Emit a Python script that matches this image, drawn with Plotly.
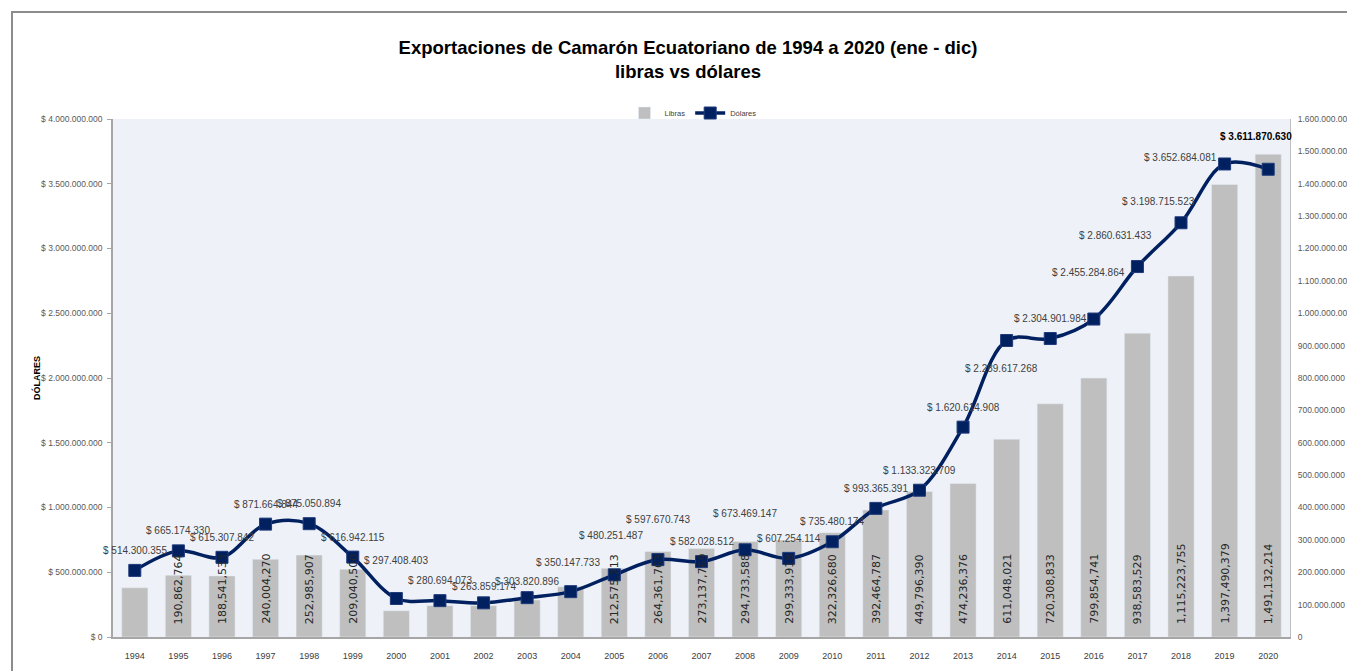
import plotly.graph_objects as go

# Datos
years = list(range(1994, 2021))

dolares = [514300355, 665174330, 615307842, 871664844, 875050894, 616942115,
           297408403, 280694073, 263859174, 303820896, 350147733, 480251487,
           597670743, 582028512, 673469147, 607254114, 735480174, 993365391,
           1133323709, 1620614908, 2289617268, 2304901984, 2455284864,
           2860631433, 3198715523, 3652684081, 3611870630]

libras = [152000000, 190862764, 188541533, 240004270, 252985907, 209040500,
          81000000, 97000000, 97000000, 114000000, 155000000, 212575213,
          264361763, 273137769, 294733588, 299333918, 322326680, 392464787,
          449796390, 474236376, 611048021, 720308833, 799854741, 938583529,
          1115223755, 1397490379, 1491132214]

# barras sin etiqueta en el original
libras_sin_etiqueta = [1994, 2000, 2001, 2002, 2003, 2004]

left_ticks = [i * 500000000 for i in range(9)]
right_ticks = [i * 100000000 for i in range(17)]

FONT = "Liberation Sans, Arial, sans-serif"
NAVY = "#002060"

# area de trazado (en px de la pagina; el body del html suma ~8px)
L, T, PW, PH = 105, 111, 1177, 518


def fmt_dot(v):
    return f"{v:,.0f}".replace(",", ".")


def px_x(x):
    # px de la imagen de referencia -> coordenada paper
    return (x - 113) / PW


def px_y(y):
    return (637 - y) / PH


fig = go.Figure()

fig.add_trace(go.Bar(
    x=years, y=libras, name="Libras",
    marker=dict(color="#BFBFBF"), width=0.6,
    yaxis="y",
))

fig.add_trace(go.Scatter(
    x=years, y=dolares, name="Dólares",
    mode="lines+markers",
    line=dict(color=NAVY, width=3.5, shape="spline", smoothing=1.0),
    marker=dict(symbol="square", size=12, color=NAVY, line=dict(color="#1F3A7A", width=1)),
    yaxis="y2",
))

annotations = []

# etiquetas verticales de las barras (libras)
for yr, v in zip(years, libras):
    if yr in libras_sin_etiqueta:
        continue
    annotations.append(dict(
        x=yr, y=0, xref="x", yref="y", text=f"{v:,.0f}",
        textangle=-90, showarrow=False, yanchor="bottom", xanchor="center",
        yshift=11, font=dict(family="DejaVu Sans, sans-serif", size=11, color="#262626"),
    ))

# desplazamientos de las etiquetas de la linea (px)
label_shift = {2000: (0, 38), 2002: (0, 16), 2003: (0, 16), 2004: (-3, 29),
               2005: (-3, 39), 2006: (0, 40), 2008: (0, 36), 2014: (-5, -28),
               2016: (-5, 47), 2017: (-22, 31), 2018: (-23, 21), 2019: (-44, 6),
               2020: (-12, 33)}

for yr, v in zip(years, dolares):
    dx, dy = label_shift.get(yr, (0, 20))
    last = yr == 2020
    annotations.append(dict(
        x=yr, y=v, xref="x", yref="y2",
        text=("<b>$ " + fmt_dot(v) + "</b>") if last else "$ " + fmt_dot(v),
        showarrow=False, xshift=dx, yshift=dy,
        font=dict(family=FONT, size=10, color="#000000" if last else "#404040"),
    ))

# titulos de ejes
annotations.append(dict(
    x=px_x(36), y=0.5, xref="paper", yref="paper", text="<b>DÓLARES</b>",
    textangle=-90, showarrow=False, xanchor="center",
    font=dict(family=FONT, size=9, color="#000000"),
))
annotations.append(dict(
    x=px_x(1358), y=0.5, xref="paper", yref="paper", text="<b>LIBRAS</b>",
    textangle=-90, showarrow=False, xanchor="center",
    font=dict(family=FONT, size=9, color="#000000"),
))

fig.update_layout(
    width=1355, height=671,
    margin=dict(l=L, r=1355 - L - PW, t=T, b=671 - T - PH, autoexpand=False),
    paper_bgcolor="white",
    plot_bgcolor="#EEF2F8",
    title=dict(
        text="<b>Exportaciones de Camarón Ecuatoriano de 1994 a 2020 (ene - dic)<br>libras vs dólares</b>",
        x=px_x(688), xref="paper", xanchor="center",
        y=1 - 46 / 671, yref="container", yanchor="middle",
        font=dict(family=FONT, size=18.5, color="#000000"),
    ),
    showlegend=True,
    legend=dict(
        orientation="h", x=px_x(693), xanchor="center", y=px_y(113), yanchor="middle",
        font=dict(family=FONT, size=7.5, color="#404040"),
        bgcolor="rgba(0,0,0,0)", itemwidth=30,
    ),
    xaxis=dict(
        range=[1993.5, 2020.5], tickmode="array", tickvals=years,
        showgrid=False, zeroline=False, automargin=False,
        showline=True, linecolor="#A6A6A6", linewidth=1.5,
        ticks="", ticklabelstandoff=9,
        tickfont=dict(family=FONT, size=9, color="#404040"),
    ),
    yaxis=dict(
        side="right", range=[0, 1600000000],
        tickmode="array", tickvals=right_ticks,
        ticktext=[fmt_dot(v) for v in right_ticks],
        showgrid=False, zeroline=False, automargin=False,
        showline=True, linecolor="#BFBFBF", linewidth=1,
        ticks="", ticklabelstandoff=5,
        tickfont=dict(family=FONT, size=8.5, color="#595959"),
    ),
    yaxis2=dict(
        side="left", overlaying="y", range=[0, 4000000000],
        tickmode="array", tickvals=left_ticks,
        ticktext=["$ " + fmt_dot(v) for v in left_ticks],
        showgrid=False, zeroline=False, automargin=False,
        showline=True, linecolor="#A6A6A6", linewidth=1.5,
        ticks="outside", ticklen=4, tickcolor="#A6A6A6", ticklabelstandoff=3,
        tickfont=dict(family=FONT, size=8.5, color="#595959"),
    ),
    annotations=annotations,
    shapes=[dict(
        type="path", xref="paper", yref="paper",
        path=f"M {px_x(12)} {px_y(680)} L {px_x(12)} {px_y(12)} L {px_x(1365)} {px_y(12)}",
        line=dict(color="#8C8C8C", width=2),
    )],
)

fig.write_html("out.html")
